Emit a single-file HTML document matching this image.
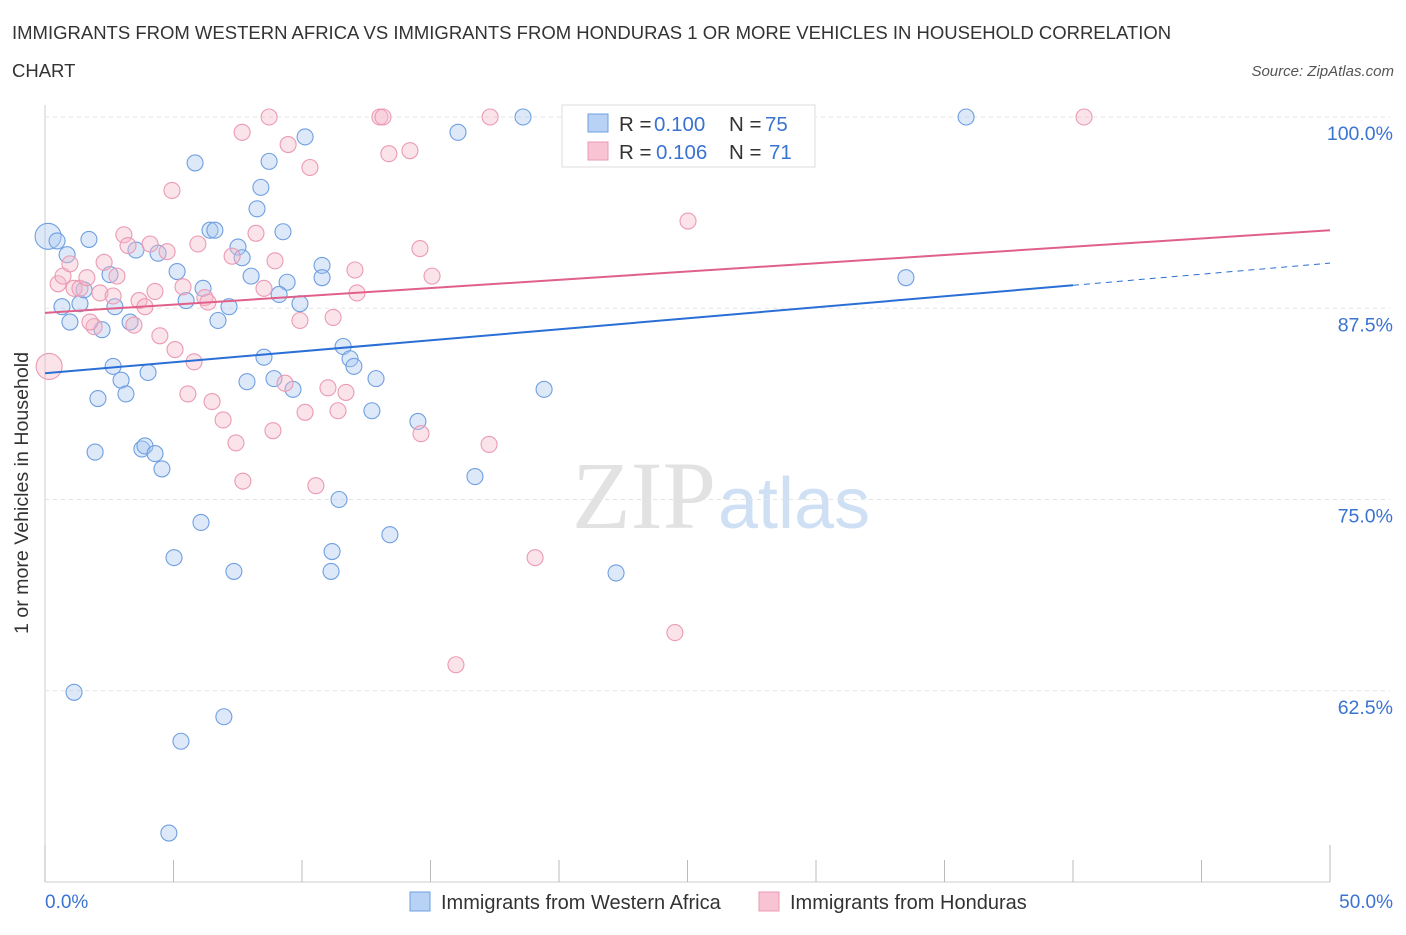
<!DOCTYPE html>
<html><head><meta charset="utf-8">
<style>
body{margin:0;background:#fff;width:1406px;height:930px;overflow:hidden;font-family:"Liberation Sans",sans-serif;}
</style></head>
<body>
<svg id="chart" width="1406" height="930" xmlns="http://www.w3.org/2000/svg">
<text x="12" y="39" font-size="18.5" fill="#333">IMMIGRANTS FROM WESTERN AFRICA VS IMMIGRANTS FROM HONDURAS 1 OR MORE VEHICLES IN HOUSEHOLD CORRELATION</text>
<text x="12" y="77" font-size="18.5" fill="#333">CHART</text>
<text x="1394" y="76" font-size="15" fill="#555" font-style="italic" text-anchor="end">Source: ZipAtlas.com</text>
<text x="716" y="528" font-size="96" fill="#e2e2e2" text-anchor="end" font-family="Liberation Serif,serif">ZIP</text>
<text x="718" y="528" font-size="72" fill="#cfe0f5">atlas</text>
<g id="grid"></g>
<g id="marks"></g>
<text x="28" y="493" font-size="19.6" fill="#333" text-anchor="middle" transform="rotate(-90 28 493)">1 or more Vehicles in Household</text>
<text x="45" y="908" font-size="19" fill="#3b73d1">0.0%</text>
<text x="1393" y="908" font-size="19" fill="#3b73d1" text-anchor="end">50.0%</text>
<g>
<rect x="562" y="105" width="253" height="62" fill="#fff" stroke="#ddd"/>
<rect x="588" y="114" width="20" height="18" fill="#b8d2f5" stroke="#6f9fe0"/>
<text x="619" y="131" font-size="20.5" fill="#333">R = </text><text x="654" y="131" font-size="20.5" fill="#3b73d1">0.100</text>
<text x="729" y="131" font-size="20.5" fill="#333">N = </text><text x="765" y="131" font-size="20.5" fill="#3b73d1">75</text>
<rect x="588" y="142" width="20" height="18" fill="#f8c4d4" stroke="#eb9ab4"/>
<text x="619" y="159" font-size="20.5" fill="#333">R = </text><text x="656" y="159" font-size="20.5" fill="#3b73d1">0.106</text>
<text x="729" y="159" font-size="20.5" fill="#333">N = </text><text x="769" y="159" font-size="20.5" fill="#3b73d1">71</text>
</g>
<g>
<rect x="410" y="892" width="20" height="19" fill="#b8d2f5" stroke="#6f9fe0"/>
<text x="441" y="909" font-size="20" fill="#333">Immigrants from Western Africa</text>
<rect x="759" y="892" width="20" height="19" fill="#f8c4d4" stroke="#eb9ab4"/>
<text x="790" y="909" font-size="20" fill="#333">Immigrants from Honduras</text>
</g>
</svg>
<script>
const xTicks=[0,5,10,15,20,25,30,35,40,45,50];
const yTicks=[62.5,75,87.5,100];
const yTickLabels=["62.5%","75.0%","87.5%","100.0%"];
const blueX=[0.12,0.47,1.71,0.86,0.66,0.97,1.36,1.52,2.22,2.53,2.72,3.31,3.54,4.4,5.14,5.84,5.49,6.15,6.42,6.61,6.73,7.16,7.51,7.67,8.02,8.4,8.25,8.72,9.26,9.42,9.11,9.92,10.12,10.78,10.78,11.6,11.87,12.02,8.52,8.91,7.86,9.65,12.88,12.72,14.51,16.07,18.6,19.42,16.73,13.42,11.44,11.17,11.13,7.35,6.07,5.02,22.22,35.84,33.5,2.65,2.96,2.06,3.15,4.01,1.95,3.77,3.89,4.28,4.55,1.13,6.96,5.29,4.82];
const blueY=[92.2,91.9,92.0,91.0,87.6,86.6,87.8,88.7,86.1,89.7,87.6,86.6,91.3,91.1,89.9,97.0,88.0,88.8,92.6,92.6,86.7,87.6,91.5,90.8,89.6,95.4,94.0,97.1,92.5,89.2,88.4,87.8,98.7,90.3,89.5,85.0,84.2,83.7,84.3,82.9,82.7,82.2,82.9,80.8,80.1,99.0,100.0,82.2,76.5,72.7,75.0,71.6,70.3,70.3,73.5,71.2,70.2,100.0,89.5,83.7,82.8,81.6,81.9,83.3,78.1,78.3,78.5,78.0,77.0,62.4,60.8,59.2,53.2];
const pinkX=[0.16,0.51,0.7,0.97,1.13,1.36,1.63,1.91,1.75,2.14,2.3,2.8,3.07,3.23,3.46,2.65,3.66,3.89,4.09,4.28,4.47,4.75,4.94,5.06,5.37,5.56,5.8,5.95,6.22,6.34,6.5,6.93,7.28,7.43,7.7,7.67,8.21,8.52,8.72,8.95,8.87,9.34,9.46,9.92,10.12,10.31,10.54,11.21,11.01,11.4,11.71,12.06,12.14,13.03,13.15,13.38,14.2,14.59,14.63,15.06,15.99,17.32,17.28,19.07,24.51,25.02,40.43,23.93,28.13];
const pinkY=[83.7,89.1,89.6,90.4,88.8,88.8,89.5,86.3,86.6,88.5,90.5,89.6,92.3,91.6,86.4,88.3,88.0,87.6,91.7,88.6,85.7,91.2,95.2,84.8,88.9,81.9,84.0,91.7,88.2,87.9,81.4,80.2,90.9,78.7,76.2,99.0,92.4,88.8,100.0,90.6,79.5,82.6,98.2,86.7,80.7,96.7,75.9,86.9,82.3,80.8,82.0,90.0,88.5,100.0,100.0,97.6,97.8,91.4,79.3,89.6,64.2,100.0,78.6,71.2,66.3,93.2,100.0,100.0,100.0];
const X0=45,X1=1330,YT=117,YB=882;
const sx=v=>X0+(v/50)*(X1-X0);
const sy=v=>YT+(100-v)/50*(YB-YT);
const NS="http://www.w3.org/2000/svg";
const grid=document.getElementById('grid'),marks=document.getElementById('marks');
function mk(tag,at,parent){const e=document.createElementNS(NS,tag);for(const k in at)e.setAttribute(k,at[k]);parent.appendChild(e);return e;}
const axis=mk('line',{x1:X0,y1:105,x2:X0,y2:YB,stroke:'#ccc'},grid);


const xaxis=mk('line',{x1:X0,y1:YB,x2:X1,y2:YB,stroke:'#ccc'},grid);


xTicks.forEach(t=>{const l=mk('line',{x1:sx(t),y1:t===0||t===50?845:860,x2:sx(t),y2:YB,stroke:'#bbb'},grid);

});
yTicks.forEach((t,i)=>{const l=mk('line',{x1:X0,y1:sy(t),x2:1390,y2:sy(t),stroke:'#e3e3e3','stroke-dasharray':'4 4'},grid);


const tx=mk('text',{x:1393,y:sy(t)+23,'font-size':19.5,fill:'#3b73d1','text-anchor':'end'},grid);tx.textContent=yTickLabels[i];

});
function dots(xs,ys,fill,stroke,name){xs.forEach((x,i)=>{const big=(i===0);const c=mk('circle',{cx:sx(x),cy:sy(ys[i]),r:big?13:8,fill:fill,'fill-opacity':0.4,stroke:stroke,'stroke-width':1.1},marks);

});}
dots(blueX,blueY,'#a9c7ef','#6f9fe0','blue-point');
dots(pinkX,pinkY,'#f5b8cb','#eb9ab4','pink-point');
const bl=mk('line',{x1:sx(0),y1:sy(83.25),x2:sx(40),y2:sy(89.0),stroke:'#2a6fd6','stroke-width':2},marks);


const bd=mk('line',{x1:sx(40),y1:sy(89.0),x2:sx(50),y2:sy(90.45),stroke:'#2a6fd6','stroke-width':1,'stroke-dasharray':'6 5'},marks);


const pl=mk('line',{x1:sx(0),y1:sy(87.2),x2:sx(50),y2:sy(92.6),stroke:'#e0608a','stroke-width':2},marks);


</script>
</body></html>
